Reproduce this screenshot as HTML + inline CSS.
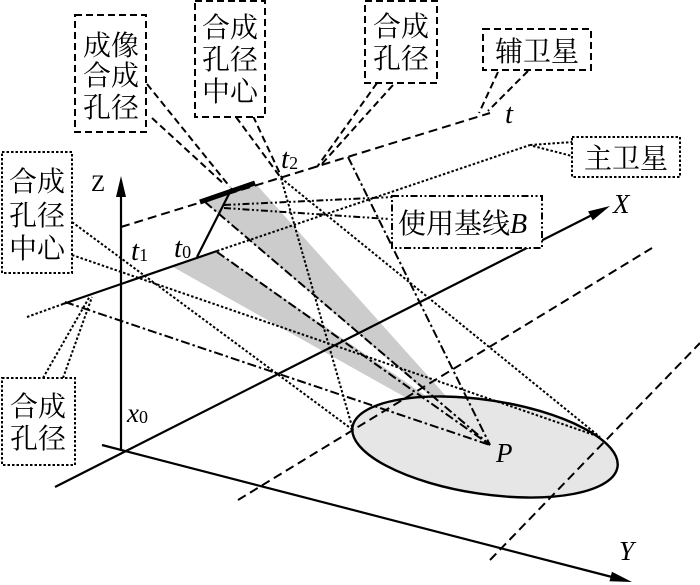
<!DOCTYPE html>
<html><head><meta charset="utf-8"><style>
html,body{margin:0;padding:0;background:#fff;}
svg{display:block;}
.cj{font-family:"Liberation Serif","Noto Serif CJK SC",serif;font-size:28px;fill:#000;}
.it{font-family:"Liberation Serif",serif;font-style:italic;fill:#000;}
.rm{font-family:"Liberation Serif",serif;fill:#000;}
</style></head><body>
<svg width="700" height="585" viewBox="0 0 700 585" xmlns="http://www.w3.org/2000/svg">
<!-- gray beams -->
<polygon points="205,202 255,183 454,405 441,405" fill="#cccccc"/>
<polygon points="173,267 217,252 439,405 419,405" fill="#cccccc"/>
<!-- ellipse -->
<ellipse cx="485" cy="447" rx="134" ry="47" transform="rotate(8.5 485 447)" fill="#e6e6e6" stroke="#000" stroke-width="2.4"/>

<g fill="none" stroke="#000">
  <!-- axes -->
  <line x1="121" y1="451" x2="121" y2="192" stroke-width="2.2"/>
  <line x1="55" y1="487" x2="592" y2="215" stroke-width="2.2"/>
  <line x1="102" y1="445" x2="612" y2="577" stroke-width="2.2"/>

  <!-- main satellite track -->
  <line x1="63" y1="304" x2="217" y2="251" stroke-width="2.2"/>
  <line x1="27" y1="317" x2="63" y2="304" stroke-width="2" stroke-dasharray="2.5 2"/>
  <line x1="217" y1="251" x2="530" y2="145" stroke-width="2" stroke-dasharray="2.5 2"/>

  <!-- baseline -->
  <line x1="197" y1="257" x2="232" y2="188" stroke-width="2.2"/>

  <!-- aux satellite track -->
  <line x1="121" y1="227" x2="490" y2="113" stroke-width="2" stroke-dasharray="9 5"/>

  <!-- dashed callouts -->
  <g stroke-width="2" stroke-dasharray="7 4">
    <line x1="147" y1="84" x2="230" y2="187"/>
    <line x1="152" y1="118" x2="225" y2="185"/>
    <line x1="236" y1="117" x2="281" y2="178"/>
    <line x1="253" y1="116" x2="282" y2="178"/>
    <line x1="377" y1="83" x2="317" y2="167"/>
    <line x1="393" y1="85" x2="320" y2="166"/>
    <line x1="498" y1="72" x2="479" y2="113"/>
    <line x1="528" y1="71" x2="488" y2="111"/>
  </g>
  <!-- ground dashed lines -->
  <line x1="238" y1="500" x2="652" y2="248" stroke-width="2" stroke-dasharray="9 5"/>
  <line x1="490" y1="560" x2="700" y2="343" stroke-width="2" stroke-dasharray="9 5"/>

  <!-- dotted lines -->
  <g stroke-width="2" stroke-dasharray="2.5 2">
    <line x1="530" y1="145" x2="573" y2="142"/>
    <line x1="533" y1="146" x2="572" y2="156"/>
    <line x1="281" y1="178" x2="353" y2="430"/>
    <line x1="281" y1="178" x2="600" y2="437"/>
    <line x1="72" y1="255" x2="600" y2="437"/>
    <line x1="72" y1="222" x2="353" y2="430"/>
    <line x1="43" y1="378" x2="90" y2="296"/>
    <line x1="63" y1="378" x2="92" y2="297"/>
  </g>

  <!-- dash-dot lines to P -->
  <g stroke-width="2" stroke-dasharray="9 3 2.5 3">
    <line x1="217" y1="252" x2="490" y2="445"/>
    <line x1="205" y1="202" x2="490" y2="445"/>
    <line x1="65" y1="302" x2="490" y2="445"/>
    <line x1="348" y1="157" x2="490" y2="445"/>
  </g>

  <!-- dash-dot-dot callouts -->
  <g stroke-width="2" stroke-dasharray="7 2.5 2 2.5 2 2.5">
    <line x1="224" y1="205" x2="393" y2="197"/>
    <line x1="224" y1="208" x2="389" y2="219"/>
  </g>

  <!-- thick bar -->
  <line x1="200" y1="202" x2="255" y2="183" stroke-width="5"/>

  <!-- boxes -->
  <g stroke-width="2" fill="#fff">
    <rect x="75" y="15" width="71" height="117" stroke-dasharray="7 4"/>
    <rect x="195" y="1" width="70" height="116" stroke-dasharray="7 4"/>
    <rect x="365" y="1" width="72" height="82" stroke-dasharray="7 4"/>
    <rect x="483" y="29" width="108" height="41" stroke-dasharray="7 4"/>
    <rect x="572" y="137" width="108" height="40" stroke-dasharray="2.5 2"/>
    <rect x="392" y="196" width="150" height="52" stroke-dasharray="7 2.5 2 2.5 2 2.5"/>
    <rect x="2" y="152" width="70" height="121" stroke-dasharray="2.5 2"/>
    <rect x="2" y="378" width="73" height="87" stroke-dasharray="2.5 2"/>
  </g>
</g>

<!-- arrowheads -->
<polygon points="121,176 116,197 126,197" fill="#000"/>
<polygon points="610,206 592.7,220.4 588.1,211.4" fill="#000"/>
<polygon points="632,582 609.5,581.3 611.9,571.7" fill="#000"/>

<!-- box texts -->
<g class="cj" text-anchor="middle">
  <text x="111" y="55">成像</text>
  <text x="111" y="85">合成</text>
  <text x="111" y="117">孔径</text>

  <text x="230" y="37">合成</text>
  <text x="230" y="69">孔径</text>
  <text x="230" y="101">中心</text>

  <text x="401" y="36">合成</text>
  <text x="401" y="68">孔径</text>

  <text x="537" y="61">辅卫星</text>
  <text x="626" y="168">主卫星</text>

  <text x="37" y="191">合成</text>
  <text x="37" y="225">孔径</text>
  <text x="37" y="258">中心</text>

  <text x="38" y="416">合成</text>
  <text x="38" y="448">孔径</text>
</g>
<text class="cj" x="398" y="233">使用基线<tspan class="it">B</tspan></text>

<!-- labels -->
<text class="rm" x="91" y="191" font-size="23">Z</text>
<text class="it" x="613" y="213" font-size="27">X</text>
<text class="it" x="619" y="560" font-size="27">Y</text>
<text class="it" x="496" y="462" font-size="27">P</text>
<text class="it" x="505" y="123" font-size="29">t</text>
<text class="it" x="281" y="168" font-size="29">t<tspan font-style="normal" font-size="18" dy="1">2</tspan></text>
<text class="it" x="131" y="260" font-size="29">t<tspan font-style="normal" font-size="18" dy="1">1</tspan></text>
<text class="it" x="174" y="257" font-size="29">t<tspan font-style="normal" font-size="18" dy="1">0</tspan></text>
<text class="it" x="127" y="422" font-size="27">x<tspan font-style="normal" font-size="18" dy="1">0</tspan></text>
</svg>
</body></html>
